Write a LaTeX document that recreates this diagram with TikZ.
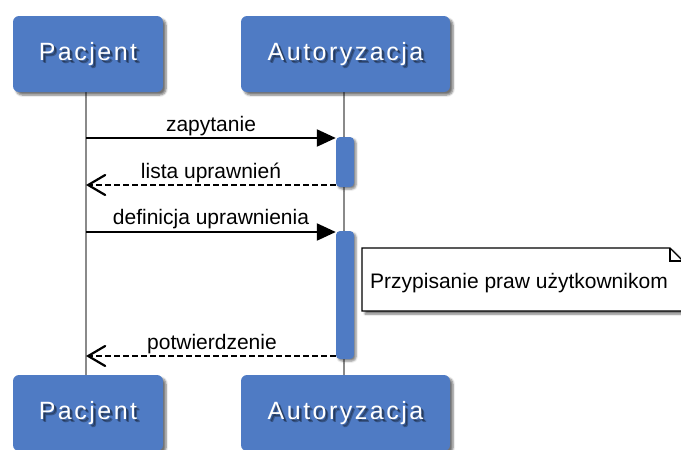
\documentclass[tikz,border=0pt]{standalone}
\usepackage{fontspec}
\setmainfont{Liberation Sans}
\newfontfamily\boxfont[LetterSpace=10]{Liberation Sans}
\usetikzlibrary{shadows.blur,arrows.meta}

\definecolor{partblue}{HTML}{4F7BC4}
\definecolor{lifegray}{HTML}{8A8A8A}

\tikzset{
  x=1pt, y=-1pt,
  participant/.style={fill=partblue, rounded corners=6pt, inner sep=0pt,
    minimum height=76pt, minimum width=#1,
    blur shadow={shadow xshift=3pt, shadow yshift=-3pt, shadow blur steps=6, shadow opacity=55}},
  ptext/.style={text=white, font=\boxfont\fontsize{25}{28}\selectfont, inner sep=0pt},
  pshadow/.style={text=black, opacity=0.3, font=\boxfont\fontsize{25}{28}\selectfont, inner sep=0pt},
  lifeline/.style={draw=lifegray, line width=2pt},
  activation/.style={fill=partblue, rounded corners=4pt, inner sep=0pt,
    minimum width=18pt, minimum height=#1,
    blur shadow={shadow xshift=2pt, shadow yshift=-2pt, shadow blur steps=4, shadow opacity=50}},
  callmsg/.style={draw=black, line width=2.2pt, -{Triangle[length=19pt,width=17pt]}},
  returnmsg/.style={draw=black, line width=2.2pt, dash pattern=on 6pt off 3pt,
    -{Straight Barb[length=17pt,width=20pt,line cap=round]}},
  msglabel/.style={anchor=base, inner sep=0pt, font=\fontsize{21}{24}\selectfont},
  notebox/.style={draw=black, line width=1.2pt, fill=white,
    blur shadow={shadow xshift=3pt, shadow yshift=-3pt, shadow blur steps=6, shadow opacity=55}},
}

\newcommand{\partbox}[4]{%
  % #1 name, #2 centre, #3 width, #4 text
  \node[participant=#3] (#1) at #2 {};
  \foreach \dx/\dy in {2/-2, 3/-3}
    \node[pshadow, xshift=\dx pt, yshift=\dy pt] at (#1.center) {#4};
  \node[ptext] (#1-label) at (#1.center) {#4};
}

\begin{document}
\begin{tikzpicture}
  \useasboundingbox (0,0) rectangle (681,450);

  % lifelines
  \coordinate (pTop) at (86,92);
  \coordinate (pBot) at (86,375);
  \coordinate (aTop) at (344,92);
  \coordinate (aBot) at (344,375);
  \draw[lifeline] (pTop) -- (pBot);
  \draw[lifeline] (aTop) -- (aBot);

  % participants, top and bottom
  \partbox{pacjentTop}{(88,54)}{150pt}{Pacjent}
  \partbox{autorTop}{(345.5,54)}{209pt}{Autoryzacja}
  \partbox{pacjentBot}{(88,413)}{150pt}{Pacjent}
  \partbox{autorBot}{(345.5,413)}{209pt}{Autoryzacja}

  % activation bars
  \node[activation=50pt] (act1) at (345,162) {};
  \node[activation=128pt] (act2) at (345,295) {};

  % messages
  \coordinate (m1) at (86,138);
  \coordinate (m2) at (86,185);
  \coordinate (m3) at (86,232);
  \coordinate (m4) at (86,356);

  \draw[callmsg] (m1) -- (act1.west |- m1);
  \node[msglabel] (l1) at (211,131) {zapytanie};

  \draw[returnmsg] (act1.west |- m2) -- (m2);
  \node[msglabel] (l2) at (211,178) {lista uprawnień};

  \draw[callmsg] (m3) -- (act2.west |- m3);
  \node[msglabel] (l3) at (211,224) {definicja uprawnienia};

  \draw[returnmsg] (act2.west |- m4) -- (m4);
  \node[msglabel] (l4) at (212,349) {potwierdzenie};

  % note with folded corner
  \draw[notebox] (362,248) -- (670,248) -- (683,261) -- (683,311) -- (362,311) -- cycle;
  \draw[black, line width=1.2pt] (670,248) -- (670,261) -- (683,261);
  \node[anchor=base west, inner sep=0pt, font=\fontsize{21}{24}\selectfont] (note) at (370,288)
    {Przypisanie praw użytkownikom};
\end{tikzpicture}
\end{document}
